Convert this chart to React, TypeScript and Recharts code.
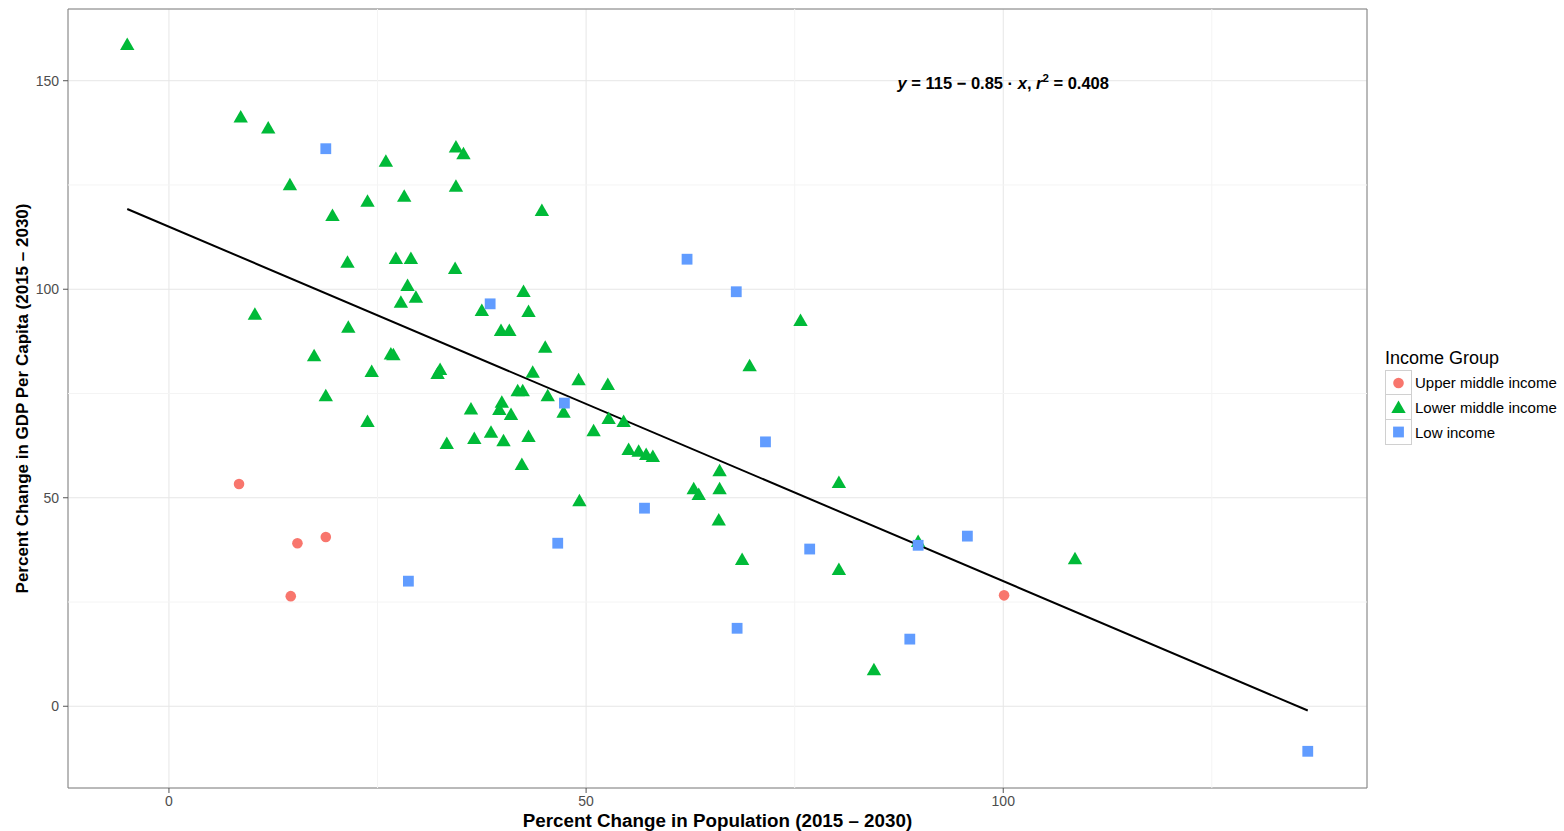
import React from 'react'
import {
  CartesianGrid,
  Legend,
  ReferenceArea,
  ReferenceDot,
  ReferenceLine,
  Scatter,
  ScatterChart,
  XAxis,
  YAxis,
} from 'recharts'

// percent change in population (x) vs percent change in GDP per capita (y)
const upperMiddleIncome = [
  { x: 8.4, y: 53.3 },
  { x: 15.4, y: 39.1 },
  { x: 18.8, y: 40.6 },
  { x: 14.6, y: 26.4 },
  { x: 100.1, y: 26.6 },
]

const lowerMiddleIncome = [
  { x: -5.0, y: 158.8 },
  { x: 8.6, y: 141.4 },
  { x: 11.9, y: 138.8 },
  { x: 14.5, y: 125.2 },
  { x: 26.0, y: 130.8 },
  { x: 34.4, y: 134.2 },
  { x: 35.3, y: 132.6 },
  { x: 19.6, y: 117.8 },
  { x: 23.8, y: 121.2 },
  { x: 28.2, y: 122.4 },
  { x: 34.4, y: 124.8 },
  { x: 44.7, y: 119.0 },
  { x: 21.4, y: 106.6 },
  { x: 27.2, y: 107.5 },
  { x: 29.0, y: 107.5 },
  { x: 34.3, y: 105.1 },
  { x: 10.3, y: 94.1 },
  { x: 28.6, y: 101.0 },
  { x: 27.8, y: 97.0 },
  { x: 29.6, y: 98.2 },
  { x: 42.5, y: 99.6 },
  { x: 37.5, y: 95.0 },
  { x: 43.1, y: 94.8 },
  { x: 39.8, y: 90.2 },
  { x: 40.8, y: 90.2 },
  { x: 21.5, y: 91.0 },
  { x: 17.4, y: 84.2 },
  { x: 26.9, y: 84.4 },
  { x: 26.6, y: 84.6 },
  { x: 45.1, y: 86.2 },
  { x: 24.3, y: 80.4 },
  { x: 32.2, y: 79.9 },
  { x: 32.5, y: 80.9 },
  { x: 43.6, y: 80.2 },
  { x: 18.8, y: 74.6 },
  { x: 36.2, y: 71.4 },
  { x: 39.9, y: 73.0 },
  { x: 39.6, y: 71.3 },
  { x: 41.0, y: 70.1 },
  { x: 41.8, y: 75.8 },
  { x: 42.4, y: 75.8 },
  { x: 45.4, y: 74.6 },
  { x: 49.1, y: 78.4 },
  { x: 52.6, y: 77.3 },
  { x: 47.3, y: 70.6 },
  { x: 23.8, y: 68.4 },
  { x: 33.3, y: 63.1 },
  { x: 36.6, y: 64.3 },
  { x: 38.6, y: 65.8 },
  { x: 40.1, y: 63.8 },
  { x: 43.1, y: 64.8 },
  { x: 50.9, y: 66.2 },
  { x: 52.7, y: 69.1 },
  { x: 54.5, y: 68.4 },
  { x: 42.3, y: 58.1 },
  { x: 55.1, y: 61.7 },
  { x: 56.3, y: 61.3 },
  { x: 57.2, y: 60.5 },
  { x: 58.0, y: 60.0 },
  { x: 49.2, y: 49.4 },
  { x: 66.0, y: 56.6 },
  { x: 66.0, y: 52.3 },
  { x: 62.9, y: 52.3 },
  { x: 63.5, y: 50.9 },
  { x: 65.9, y: 44.8 },
  { x: 68.7, y: 35.3 },
  { x: 75.7, y: 92.6 },
  { x: 69.6, y: 81.8 },
  { x: 80.3, y: 53.8 },
  { x: 80.3, y: 32.9 },
  { x: 84.5, y: 8.9 },
  { x: 89.8, y: 39.6 },
  { x: 108.6, y: 35.5 },
]

const lowIncome = [
  { x: 18.8, y: 133.7 },
  { x: 38.5, y: 96.5 },
  { x: 47.4, y: 72.7 },
  { x: 62.1, y: 107.2 },
  { x: 68.0, y: 99.4 },
  { x: 71.5, y: 63.4 },
  { x: 57.0, y: 47.5 },
  { x: 46.6, y: 39.1 },
  { x: 28.7, y: 30.0 },
  { x: 76.8, y: 37.7 },
  { x: 89.8, y: 38.6 },
  { x: 95.7, y: 40.8 },
  { x: 68.1, y: 18.7 },
  { x: 88.8, y: 16.1 },
  { x: 136.5, y: -10.8 },
]

const xTicks = [0, 50, 100]
const yTicks = [0, 50, 100, 150]
const xMinor = [25, 75, 125]
const yMinor = [25, 75, 125]

// fitted line, as printed on the chart
const fitIntercept = 115
const fitSlope = -0.85
const fitR2 = 0.408
const fitFrom = -5.0
const fitTo = 136.5

const xDomain = [-12.1, 143.6]
const yDomain = [-19.6, 167.2]

const RED = '#F8766D'
const GREEN = '#00BA38'
const BLUE = '#619CFF'
const FONT = 'Arial, "Liberation Sans", sans-serif'

const CircleMark = ({ cx, cy }: any) => <circle cx={cx} cy={cy} r={5.3} fill={RED} />

const TriangleMark = ({ cx, cy }: any) => (
  <polygon
    points={`${cx},${cy - 6.5} ${cx + 7.2},${cy + 6} ${cx - 7.2},${cy + 6}`}
    fill={GREEN}
  />
)

const SquareMark = ({ cx, cy }: any) => (
  <rect x={cx - 5.4} y={cy - 5.4} width={10.8} height={10.8} fill={BLUE} />
)

const groups = [
  { name: 'Upper middle income', Mark: CircleMark },
  { name: 'Lower middle income', Mark: TriangleMark },
  { name: 'Low income', Mark: SquareMark },
]

const renderLegend = () => (
  <div style={{ fontFamily: FONT, color: '#000' }}>
    <div style={{ fontSize: 18, lineHeight: '22px', marginBottom: 1 }}>Income Group</div>
    {groups.map((g, i) => (
      <div key={g.name} style={{ display: 'flex', alignItems: 'center', height: 25 }}>
        <svg width={27} height={26} style={{ display: 'block', marginTop: i === 0 ? 0 : -1 }}>
          <rect x={0.5} y={0.5} width={26} height={25} fill="#fff" stroke="#d0d0d0" />
          <g.Mark cx={13.5} cy={13} />
        </svg>
        <span style={{ fontSize: 15, marginLeft: 3 }}>{g.name}</span>
      </div>
    ))}
  </div>
)

const Equation = ({ cx, cy }: any) => (
  <text
    x={cx}
    y={cy}
    dy={6}
    textAnchor="middle"
    fontFamily={FONT}
    fontWeight="bold"
    fontSize={16.5}
    fill="#000"
  >
    <tspan fontStyle="italic">y</tspan>
    {` = ${fitIntercept} \u2212 ${Math.abs(fitSlope)} \u00b7 `}
    <tspan fontStyle="italic">x</tspan>
    {',  '}
    <tspan fontStyle="italic">r</tspan>
    <tspan fontSize={11.5} dy={-7}>2</tspan>
    <tspan dy={7}>{` = ${fitR2}`}</tspan>
  </text>
)

const XTitle = ({ viewBox }: any) => (
  <text
    x={viewBox.x + viewBox.width / 2}
    y={viewBox.y + viewBox.height - 4}
    textAnchor="middle"
    fontFamily={FONT}
    fontWeight="bold"
    fontSize={18.8}
    fill="#000"
  >
    Percent Change in Population (2015 – 2030)
  </text>
)

const YTitle = ({ viewBox }: any) => {
  const cx = 22
  const cy = viewBox.y + viewBox.height / 2
  return (
    <text
      x={cx}
      y={cy}
      transform={`rotate(-90 ${cx} ${cy})`}
      textAnchor="middle"
      dominantBaseline="central"
      fontFamily={FONT}
      fontWeight="bold"
      fontSize={17}
      fill="#000"
    >
      Percent Change in GDP Per Capita (2015 – 2030)
    </text>
  )
}

const App = () => {
  const tickStyle = { fill: '#4d4d4d', fontSize: 14, fontFamily: FONT }
  return (
    <div style={{ position: 'absolute', left: 0, top: 0, width: 1564, height: 831, background: '#fff' }}>
      <ScatterChart width={1564} height={831} margin={{ top: 9, right: 197, bottom: 0, left: 0 }}>
        <CartesianGrid stroke="#e6e6e6" />
        {xMinor.map((v) => (
          <ReferenceLine key={'vx' + v} x={v} stroke="#f4f4f4" />
        ))}
        {yMinor.map((v) => (
          <ReferenceLine key={'hy' + v} y={v} stroke="#f4f4f4" />
        ))}
        <XAxis
          type="number"
          dataKey="x"
          domain={xDomain}
          ticks={xTicks}
          allowDataOverflow
          height={43}
          axisLine={false}
          tickSize={5}
          tickMargin={3}
          tickLine={{ stroke: '#555' }}
          tick={tickStyle}
          label={{ content: XTitle }}
        />
        <YAxis
          type="number"
          dataKey="y"
          domain={yDomain}
          ticks={yTicks}
          allowDataOverflow
          width={68}
          axisLine={false}
          tickSize={5}
          tickMargin={4}
          tickLine={{ stroke: '#555' }}
          tick={tickStyle}
          label={{ content: YTitle }}
        />
        <Scatter name="Upper middle income" data={upperMiddleIncome} shape={CircleMark} isAnimationActive={false} />
        <Scatter name="Lower middle income" data={lowerMiddleIncome} shape={TriangleMark} isAnimationActive={false} />
        <Scatter name="Low income" data={lowIncome} shape={SquareMark} isAnimationActive={false} />
        <ReferenceLine
          segment={[
            { x: fitFrom, y: fitIntercept + fitSlope * fitFrom },
            { x: fitTo, y: fitIntercept + fitSlope * fitTo },
          ]}
          stroke="#000"
          strokeWidth={2}
        />
        <ReferenceDot x={100} y={149.5} r={0} shape={Equation} />
        <ReferenceArea
          x1={xDomain[0]}
          x2={xDomain[1]}
          y1={yDomain[0]}
          y2={yDomain[1]}
          fill="none"
          stroke="#808080"
          strokeWidth={1}
        />
        <Legend
          layout="horizontal"
          verticalAlign="middle"
          align="center"
          content={renderLegend}
          wrapperStyle={{ position: 'absolute', left: 1385, top: 347, width: 179, height: 'auto' }}
        />
      </ScatterChart>
    </div>
  )
}

export default App
